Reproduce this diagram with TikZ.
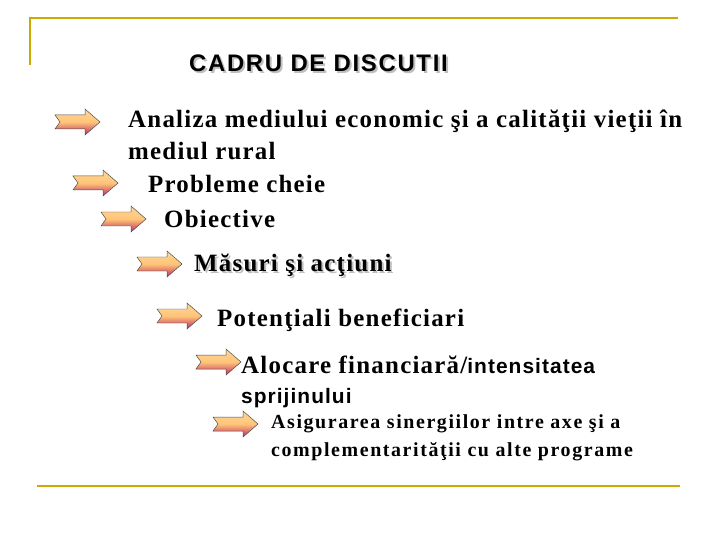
\documentclass[tikz,border=0pt]{standalone}
\usepackage{fontspec}
\setmainfont{Liberation Serif}[LetterSpace=5]
\newfontfamily\arialf{Liberation Sans}[LetterSpace=5]
\newfontfamily\titlef{Liberation Sans}[LetterSpace=7]
\newfontfamily\smallf{Liberation Serif}[LetterSpace=8]
\definecolor{gold}{RGB}{204,170,0}
\definecolor{atop}{RGB}{255,214,150}
\definecolor{abot}{RGB}{190,40,100}
\tikzset{
  txt/.style={anchor=base west,inner sep=0pt,font=\bfseries\fontsize{25}{32}\selectfont},
  small/.style={anchor=base west,inner sep=0pt,font=\smallf\bfseries\fontsize{20}{28}\selectfont},
  frame/.style={draw=gold,line width=2.5pt},
  pics/arr/.style={code={
    \draw[draw=black!70,line width=0.5pt,top color=atop,bottom color=abot,middle color=atop!80!orange]
      (0,-7)--(30,-7)--(30,-13)--(45,0)--(30,13)--(30,7)--(0,7)--(5,0)--cycle;}}
}
\begin{document}
\begin{tikzpicture}[x=1bp,y=-1bp]
\useasboundingbox (0,0) rectangle (720,540);
\draw[frame] (30,65)--(30,18)--(678,18);
\draw[frame] (37,486)--(680,486);
\node[anchor=base west,inner sep=0pt,font=\titlef\bfseries\fontsize{24}{26}\selectfont,text=black!25] (tsh) at (191,74) {CADRU DE DISCUTII};
\node[anchor=base west,inner sep=0pt,font=\titlef\bfseries\fontsize{24}{26}\selectfont] (title) at (189,72) {CADRU DE DISCUTII};
\pic at (55,122) {arr};
\pic at (73,183) {arr};
\pic at (101,219) {arr};
\pic at (137,264) {arr};
\pic at (157,316) {arr};
\pic at (196,362) {arr};
\pic at (213,424) {arr};
\node[txt] (t1) at (128,128) {Analiza mediului economic şi a calităţii vieţii în};
\node[txt] (t1b) at (128,160) {mediul rural};
\node[txt] (t2) at (148,193) {Probleme cheie};
\node[txt] (t3) at (164,228) {Obiective};
\node[txt,text=black!25] (t4s) at (196,274) {Măsuri şi acţiuni};
\node[txt] (t4) at (194,272) {Măsuri şi acţiuni};
\node[txt] (t5) at (217,326) {Potenţiali beneficiari};
\node[txt] (t6) at (241,373) {Alocare financiară/{\arialf\fontsize{21}{22}\selectfont intensitatea}};
\node[anchor=base west,inner sep=0pt,font=\arialf\bfseries\fontsize{21}{22}\selectfont] (t6b) at (241,403) {sprijinului};
\node[small] (t7) at (271,428) {Asigurarea sinergiilor intre axe şi a};
\node[small] (t7b) at (271,456) {complementarităţii cu alte programe};
\end{tikzpicture}
\end{document}
